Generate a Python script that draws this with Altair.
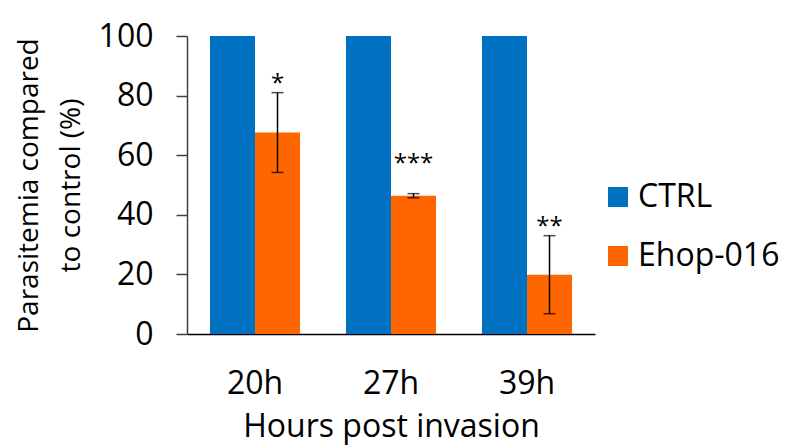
import altair as alt
import pandas as pd

hours = ["20h", "27h", "39h"]
groups = ["CTRL", "Ehop-016"]
ctrl_vals = [100, 100, 100]
ehop_vals = [67.6, 46.4, 19.9]
ehop_err = [13.4, 0.7, 13.1]
stars = ["*", "***", "**"]
star_y = [86, 59, 38]
colors = ["#0070C0", "#FF6600"]

bars = pd.DataFrame({
    "hour": hours * 2,
    "group": [groups[0]] * 3 + [groups[1]] * 3,
    "value": ctrl_vals + ehop_vals,
})
err = pd.DataFrame({
    "hour": hours,
    "group": [groups[1]] * 3,
    "lo": [v - e for v, e in zip(ehop_vals, ehop_err)],
    "hi": [v + e for v, e in zip(ehop_vals, ehop_err)],
    "star": stars,
    "sy": star_y,
})

FONT = "Open Sans"

x = alt.X("hour:N", sort=hours,
          scale=alt.Scale(paddingInner=0.338, paddingOuter=0.169),
          axis=alt.Axis(title="Hours post invasion", labelAngle=0, ticks=False,
                        labelPadding=34, labelFontSize=32, titleFontSize=32,
                        titleFontWeight="normal", titleY=102,
                        titleBaseline="alphabetic", labelColor="black",
                        titleColor="black", domainColor="black", domainWidth=1.5,
                        labelFont=FONT, titleFont=FONT))
xo = alt.XOffset("group:N", sort=groups,
                 scale=alt.Scale(paddingInner=0, paddingOuter=0))

bar = alt.Chart(bars).mark_bar().encode(
    x=x,
    xOffset=xo,
    y=alt.Y("value:Q", scale=alt.Scale(domain=[0, 100]),
            axis=alt.Axis(title=["Parasitemia compared", "to control (%)"],
                          values=[0, 20, 40, 60, 80, 100], grid=False,
                          tickSize=11, tickColor="#404040", tickWidth=1.5,
                          domainColor="#404040", domainWidth=1.5,
                          labelPadding=23, labelFontSize=32, titleFontSize=28,
                          titleFontWeight="normal", titleLineHeight=42,
                          titleX=-150, titleBaseline="alphabetic",
                          labelColor="black", titleColor="black",
                          labelFont=FONT, titleFont=FONT)),
    color=alt.Color("group:N", sort=groups,
                    scale=alt.Scale(domain=groups, range=colors),
                    legend=alt.Legend(title=None, orient="none", legendX=415,
                                      legendY=145, symbolType="square",
                                      symbolSize=400, symbolStrokeWidth=0,
                                      labelFontSize=32, labelFont=FONT,
                                      labelColor="black", labelOffset=4,
                                      rowPadding=27, padding=0)),
)

rule = alt.Chart(err).mark_rule(color="black", strokeWidth=1.5).encode(
    x=alt.X("hour:N", sort=hours),
    xOffset=xo,
    y="lo:Q",
    y2="hi:Q",
)
cap_hi = alt.Chart(err).mark_tick(color="black", thickness=1.5, size=12).encode(
    x=alt.X("hour:N", sort=hours), xOffset=xo, y="hi:Q")
cap_lo = alt.Chart(err).mark_tick(color="black", thickness=1.5, size=12).encode(
    x=alt.X("hour:N", sort=hours), xOffset=xo, y="lo:Q")
txt = alt.Chart(err).mark_text(fontSize=24, font=FONT, color="black",
                               baseline="alphabetic", dy=13).encode(
    x=alt.X("hour:N", sort=hours), xOffset=xo, y="sy:Q", text="star:N")

chart = alt.layer(bar, rule, cap_hi, cap_lo, txt).properties(
    width=408, height=298,
    autosize=alt.AutoSizeParams(type="none"),
    padding={"left": 187, "top": 36, "right": 190, "bottom": 111},
).configure_view(stroke=None)

chart.save("out.html", embed_options={"renderer": "svg", "actions": False})
